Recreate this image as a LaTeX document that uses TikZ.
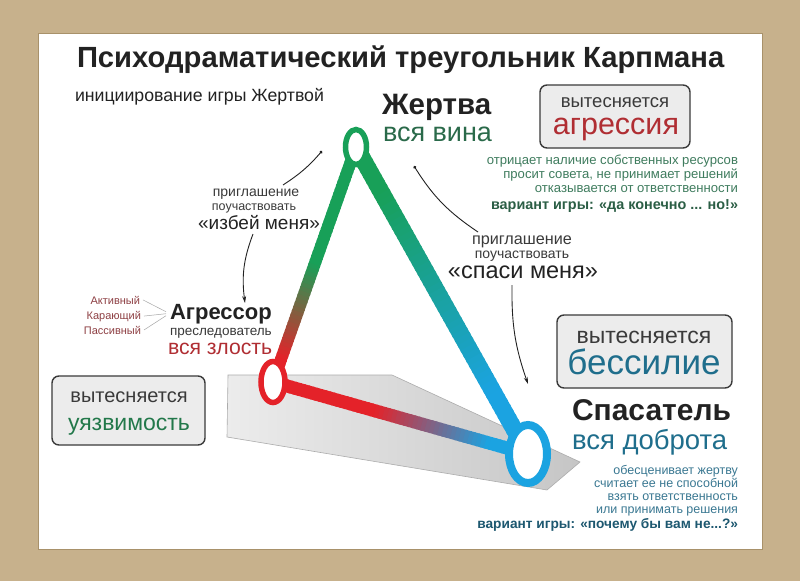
\documentclass[tikz,border=0pt]{standalone}
\usepackage{fontspec}
\setmainfont{Liberation Sans}
\usetikzlibrary{shapes.geometric,arrows.meta,calc}
\definecolor{tan}{HTML}{C7B18C}
\definecolor{tanedge}{HTML}{A8916A}
\definecolor{vgreen}{HTML}{18A058}
\definecolor{vred}{HTML}{E42229}
\definecolor{vblue}{HTML}{1BA3E1}
\definecolor{boxfill}{HTML}{ECECEC}
\definecolor{boxline}{HTML}{3A3A3A}
\definecolor{txtdark}{HTML}{222222}
\definecolor{txtgray}{HTML}{3A3A3A}
\definecolor{dgreen}{HTML}{2A6A4A}
\definecolor{mgreen}{HTML}{3F7C5E}
\definecolor{bgreen}{HTML}{2B5E45}
\definecolor{dred}{HTML}{B02E33}
\definecolor{lred}{HTML}{8E4044}
\definecolor{dteal}{HTML}{1F6E8C}
\definecolor{mteal}{HTML}{3A7892}
\definecolor{bteal}{HTML}{1D5870}
\definecolor{uzgreen}{HTML}{22784A}
\newcommand\fsz[1]{\fontsize{#1}{#1}\selectfont}
\newcommand\gradedge[7]{%
  \foreach \i in {0,...,59}{%
    \pgfmathsetmacro\tt{(\i+0.5)/60}%
    \pgfmathtruncatemacro\pp{100*(1-min(1,max(0,(\tt-#6)/(#7-#6))))}%
    \draw[line width=#5, line cap=butt, color=#3!\pp!#4]
      ($(#1)!{\i/60}!(#2)$) -- ($(#1)!{(\i+1.4)/60}!(#2)$);
  }%
}
\begin{document}
\begin{tikzpicture}[x=1pt,y=-1pt,
  txt/.style={inner sep=0pt, outer sep=0pt},
  vbox/.style={draw=boxline, line width=1.4pt, rounded corners=7pt, fill=boxfill, inner sep=0pt},
  ring/.style={ellipse, fill=white, inner sep=0pt, outer sep=0pt},
  inv/.style={draw=txtdark, line width=0.9pt},
  tip/.style={-{Stealth[length=7pt,width=4pt]}},
  dot/.style={{Circle[length=3pt]}-},
  fan/.style={draw=gray!70, line width=0.5pt}]
\useasboundingbox (0,0) rectangle (800,581);
% frame
\fill[tan] (0,0) rectangle (800,581);
\fill[white, draw=tanedge, line width=0.8pt] (38,33) rectangle (762,549);

% title
\node[txt, anchor=base west, font=\fsz{29.2}\bfseries, text=txtdark] (title) at (77,67) {Психодраматический треугольник Карпмана};
\node[txt, anchor=base west, font=\fsz{17.7}, text=txtdark] (sub) at (75,101) {инициирование игры Жертвой};

% gray plane
\shade[left color=gray!15, right color=gray!45, draw=gray!65, line width=0.6pt]
  (228,375) -- (392,375) -- (580,462) -- (547,490) -- (227,437) -- cycle;

% vertex positions
\coordinate (cV) at (356,147);
\coordinate (cA) at (273,382);
\coordinate (cS) at (528,454);

% edges with colour gradients
\gradedge{cV}{cA}{vgreen}{vred}{12pt}{0.5}{0.9}
\gradedge{cV}{cS}{vgreen}{vblue}{17pt}{0.15}{0.8}
\gradedge{cA}{cS}{vred}{vblue}{13pt}{0.4}{0.85}

% rings
\node[ring, draw=vgreen, line width=5.5pt, minimum width=21pt, minimum height=35pt] (V) at (cV) {};
\node[ring, draw=vred, line width=5.5pt, minimum width=24pt, minimum height=41pt] (A) at (cA) {};
\node[ring, draw=vblue, line width=8pt, minimum width=38pt, minimum height=58pt] (S) at (cS) {};

% Жертва
\node[txt, anchor=base west, font=\fsz{29.5}\bfseries, text=txtdark] (zh) at (382,114) {Жертва};
\node[txt, anchor=base west, font=\fsz{27}, text=dgreen] (zhv) at (383,141) {вся вина};

% box 1
\node[vbox, minimum width=150pt, minimum height=63pt] (b1) at (615,116.5) {};
\node[txt, anchor=base, font=\fsz{18.5}, text=txtgray] (b1a) at (615,107) {вытесняется};
\node[txt, anchor=base, font=\fsz{30.5}, text=dred] (b1b) at (616,134) {агрессия};

% green block
\node[txt, anchor=base east, font=\fsz{13.1}, text=mgreen] (g1) at (738,164) {отрицает наличие собственных ресурсов};
\node[txt, anchor=base east, font=\fsz{13.1}, text=mgreen] (g2) at (738,178) {просит совета, не принимает решений};
\node[txt, anchor=base east, font=\fsz{13.1}, text=mgreen] (g3) at (738,192) {отказывается от ответственности};
\node[txt, anchor=base east, font=\fsz{14.4}\bfseries, text=bgreen] (g4) at (738,209) {вариант игры: «да конечно ... но!»};

% invitation left
\node[txt, anchor=base, font=\fsz{14}, text=txtgray] (i1) at (256,196) {приглашение};
\node[txt, anchor=base, font=\fsz{12.5}, text=txtgray] (i2) at (254,210) {поучаствовать};
\node[txt, anchor=base, font=\fsz{19}, text=txtdark] (i3) at (259,229) {«избей меня»};
\coordinate (la1) at (322,151);
\coordinate (la2) at (283,185);
\coordinate (la3) at (253,234);
\coordinate (la4) at (245,303);
\draw[inv, dot] (la1) to[bend left=8] (la2);
\draw[inv, tip] (la3) to[bend right=14] (la4);

% invitation right
\node[txt, anchor=base, font=\fsz{16.2}, text=txtgray] (s1) at (522,244) {приглашение};
\node[txt, anchor=base, font=\fsz{14}, text=txtgray] (s2) at (522,258) {поучаствовать};
\node[txt, anchor=base, font=\fsz{23.5}, text=txtdark] (s3) at (523,278) {«спаси меня»};
\coordinate (ra1) at (414,166);
\coordinate (ra2) at (478,232);
\coordinate (ra3) at (512,285);
\coordinate (ra4) at (528,384);
\draw[inv, dot] (ra1) to[bend right=12] (ra2);
\draw[inv, tip] (ra3) to[bend right=10] (ra4);

% Агрессор
\node[txt, anchor=base west, font=\fsz{22}\bfseries, text=txtdark] (agr) at (170,319) {Агрессор};
\node[txt, anchor=base west, font=\fsz{13.5}, text=txtgray] (agr2) at (170,335) {преследователь};
\node[txt, anchor=base west, font=\fsz{21.2}, text=dred] (agr3) at (168,354) {вся злость};
\node[txt, anchor=base east, font=\fsz{11}, text=lred] (l1) at (140,304) {Активный};
\node[txt, anchor=base east, font=\fsz{11}, text=lred] (l2) at (141,319) {Карающий};
\node[txt, anchor=base east, font=\fsz{11}, text=lred] (l3) at (141,334) {Пассивный};
\draw[fan] ([xshift=3pt]l1.east) -- ([xshift=-4pt,yshift=2pt]agr.west);
\draw[fan] ([xshift=3pt]l2.east) -- ([xshift=-4pt]agr.west);
\draw[fan] ([xshift=3pt]l3.east) -- ([xshift=-4pt,yshift=-2pt]agr.west);

% box 3
\node[vbox, minimum width=153pt, minimum height=69pt] (b3) at (128.5,410.5) {};
\node[txt, anchor=base, font=\fsz{20}, text=txtgray] (b3a) at (129,402) {вытесняется};
\node[txt, anchor=base, font=\fsz{23}, text=uzgreen] (b3b) at (129,430) {уязвимость};

% box 2
\node[vbox, minimum width=175pt, minimum height=73pt] (b2) at (644.5,351.5) {};
\node[txt, anchor=base, font=\fsz{23}, text=txtgray] (b2a) at (644,343) {вытесняется};
\node[txt, anchor=base, font=\fsz{35}, text=dteal] (b2b) at (644,374) {бессилие};

% Спасатель
\node[txt, anchor=base west, font=\fsz{30}\bfseries, text=txtdark] (sp) at (572,420) {Спасатель};
\node[txt, anchor=base west, font=\fsz{27.5}, text=dteal] (sp2) at (572,449) {вся доброта};

% blue block
\node[txt, anchor=base east, font=\fsz{12.5}, text=mteal] (t1) at (738,474) {обесценивает жертву};
\node[txt, anchor=base east, font=\fsz{12.5}, text=mteal] (t2) at (738,487) {считает ее не способной};
\node[txt, anchor=base east, font=\fsz{12.5}, text=mteal] (t3) at (738,500) {взять ответственность};
\node[txt, anchor=base east, font=\fsz{12.5}, text=mteal] (t4) at (738,513) {или принимать решения};
\node[txt, anchor=base east, font=\fsz{13.7}\bfseries, text=bteal] (t5) at (738,528) {вариант игры: «почему бы вам не...?»};
\end{tikzpicture}
\end{document}
